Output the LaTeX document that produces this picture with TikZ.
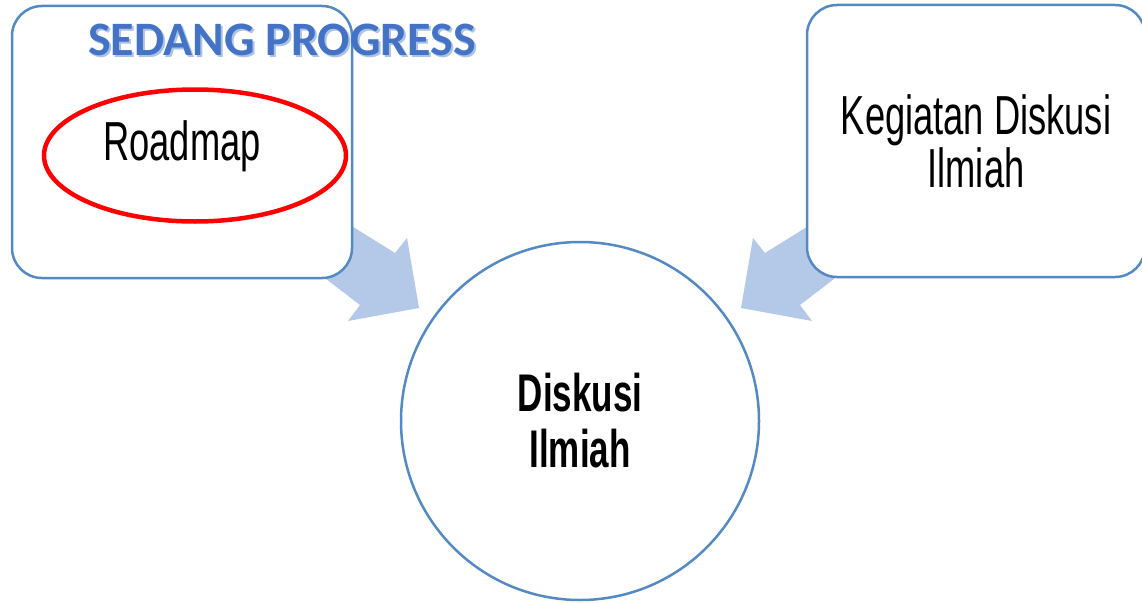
\documentclass[tikz,border=0pt]{standalone}
\usepackage{fontspec}
\newfontfamily\agency[FakeStretch=0.66]{Liberation Sans}
\newfontfamily\calib{Carlito}
\definecolor{boxline}{RGB}{84,138,196}
\definecolor{arrowfill}{RGB}{180,201,231}
\definecolor{progblue}{RGB}{68,114,196}
\definecolor{progshadow}{RGB}{170,195,230}
\tikzset{
  boxnode/.style={draw=boxline, line width=2.5pt, fill=white, rounded corners=30pt, rectangle},
  blockarrow/.style={fill=arrowfill, draw=none},
  mainfont/.style={font=\agency\fontsize{52}{52}\selectfont, text=black},
}
\begin{document}
\begin{tikzpicture}[x=1pt,y=-1pt]
\useasboundingbox (0,0) rectangle (1142,602);
\clip (0,0) rectangle (1142,602);
\fill[white] (0,0) rectangle (1142,602);
% block arrows (behind boxes)
\fill[blockarrow] (300,194) -- (395,253) -- (407,238) -- (419,308) -- (348,321) -- (360,305) -- (300,259) -- cycle;
\fill[blockarrow] (860,194) -- (765,253) -- (753,238) -- (741,308) -- (812,321) -- (800,305) -- (860,259) -- cycle;
% boxes
\node[boxnode, minimum width=340pt, minimum height=272pt] (leftbox) at (182,142) {};
\node[boxnode, minimum width=338pt, minimum height=272pt, font=\agency\fontsize{55}{53}\selectfont, align=center] (rightbox) at (976,141) {Kegiatan Diskusi\\Ilmiah};
% center circle
\node[circle, draw=boxline, line width=2.5pt, fill=white, minimum size=358pt, inner sep=0pt,
      font=\agency\bfseries\fontsize{53}{56}\selectfont, align=center] (center) at (580,421) {Diskusi\\Ilmiah};
% red ellipse and roadmap text
\draw[red, line width=4.5pt] (195,155.5) ellipse [x radius=151pt, y radius=66pt];
\node[coordinate] (ell) at (195,155.5) {};
\node[anchor=base, inner sep=0pt, font=\agency\fontsize{55}{55}\selectfont] (roadmap) at (182,160) {Roadmap};
% SEDANG PROGRESS
\node[anchor=base west, inner sep=0pt, text=progshadow, font=\calib\bfseries\fontsize{48}{48}\selectfont] (progshadow) at (90,57.5) {SEDANG PROGRESS};
\node[anchor=base west, inner sep=0pt, text=progblue, font=\calib\bfseries\fontsize{48}{48}\selectfont] (progress) at (88,55.5) {SEDANG PROGRESS};
\end{tikzpicture}
\end{document}
